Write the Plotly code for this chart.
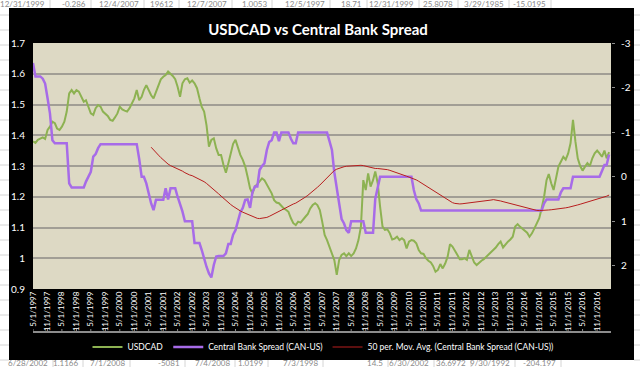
import plotly.graph_objects as go
import pandas as pd

# ---------------- data (monthly) ----------------
months = pd.date_range("1997-05-01", periods=240, freq="MS")

usdcad = [
    1.380, 1.375, 1.385, 1.390, 1.393, 1.388, 1.417, 1.428, 1.444, 1.439,
    1.422, 1.417, 1.428, 1.444, 1.477, 1.536, 1.547, 1.536, 1.547, 1.542,
    1.525, 1.509, 1.514, 1.488, 1.471, 1.466, 1.488, 1.498, 1.493, 1.477,
    1.469, 1.463, 1.450, 1.447, 1.458, 1.471, 1.493, 1.484, 1.480, 1.477,
    1.488, 1.504, 1.520, 1.547, 1.514, 1.525, 1.547, 1.563, 1.547, 1.530,
    1.520, 1.542, 1.563, 1.582, 1.590, 1.596, 1.607, 1.601, 1.593, 1.582,
    1.558, 1.525, 1.569, 1.582, 1.585, 1.571, 1.578, 1.569, 1.553, 1.520,
    1.493, 1.477, 1.433, 1.363, 1.385, 1.390, 1.357, 1.336, 1.336, 1.304,
    1.278, 1.309, 1.336, 1.372, 1.385, 1.357, 1.336, 1.320, 1.298, 1.265,
    1.227, 1.211, 1.233, 1.241, 1.249, 1.260, 1.254, 1.241, 1.227, 1.211,
    1.189, 1.181, 1.179, 1.170, 1.162, 1.157, 1.151, 1.130, 1.114, 1.108,
    1.119, 1.116, 1.124, 1.135, 1.144, 1.162, 1.173, 1.179, 1.173, 1.157,
    1.119, 1.076, 1.059, 1.038, 1.011, 0.994, 0.946, 0.994, 1.011, 1.016,
    1.007, 1.016, 1.007, 1.016, 1.032, 1.059, 1.103, 1.254, 1.222, 1.276,
    1.233, 1.254, 1.282, 1.244, 1.168, 1.103, 1.092, 1.094, 1.081, 1.061,
    1.064, 1.070, 1.059, 1.065, 1.059, 1.032, 1.054, 1.059, 1.057, 1.049,
    1.027, 1.016, 1.014, 1.000, 0.992, 0.986, 0.975, 0.956, 0.962, 0.981,
    0.967, 0.983, 1.005, 1.046, 1.038, 1.022, 1.011, 0.997, 0.997, 1.000,
    0.995, 1.027, 1.005, 0.986, 0.978, 0.986, 0.992, 0.997, 1.005, 1.014,
    1.018, 1.027, 1.035, 1.046, 1.054, 1.035, 1.046, 1.054, 1.061, 1.070,
    1.103, 1.111, 1.103, 1.097, 1.092, 1.083, 1.070, 1.081, 1.097, 1.116,
    1.130, 1.162, 1.200, 1.254, 1.274, 1.244, 1.222, 1.260, 1.298, 1.314,
    1.330, 1.321, 1.341, 1.374, 1.450, 1.379, 1.325, 1.300, 1.285, 1.298,
    1.309, 1.300, 1.325, 1.341, 1.350, 1.341, 1.330, 1.350, 1.325, 1.345,
]

spread = [
    -2.55, -2.25, -2.25, -2.25, -2.20, -2.09, -1.76, -1.42, -0.82, -0.75,
    -0.75, -0.75, -0.75, -0.75, -0.75, 0.15, 0.24, 0.24, 0.24, 0.24,
    0.24, 0.24, 0.11, 0.00, -0.11, -0.45, -0.51, -0.64, -0.73, -0.73,
    -0.73, -0.73, -0.73, -0.73, -0.73, -0.73, -0.73, -0.73, -0.73, -0.73,
    -0.73, -0.73, -0.73, -0.73, -0.40, 0.00, 0.00, 0.15, 0.37, 0.60,
    0.75, 0.52, 0.52, 0.52, 0.52, 0.26, 0.51, 0.26, 0.26, 0.26,
    0.45, 0.60, 0.78, 1.00, 1.00, 1.00, 1.00, 1.49, 1.49, 1.49,
    1.64, 1.87, 2.02, 2.17, 2.26, 1.98, 1.79, 1.78, 1.78, 1.78,
    1.72, 1.51, 1.51, 1.30, 1.20, 1.00, 0.80, 0.70, 0.52, 0.51,
    0.70, 0.35, 0.22, 0.22, -0.15, -0.24, -0.30, -0.60, -0.78, -0.82,
    -0.99, -0.99, -0.80, -0.99, -0.99, -0.99, -0.99, -0.85, -0.75, -0.75,
    -0.99, -0.99, -0.99, -0.99, -0.99, -0.99, -0.99, -0.99, -0.99, -0.99,
    -0.99, -0.99, -0.99, -0.80, -0.60, -0.10, 0.30, 0.60, 0.95, 1.05,
    1.20, 1.26, 1.00, 1.00, 1.00, 1.00, 1.00, 1.00, 1.26, 1.26,
    1.26, 1.26, 0.50, 0.26, 0.00, 0.00, 0.00, 0.00, 0.00, 0.00,
    0.00, 0.00, 0.00, 0.00, 0.00, 0.00, 0.00, 0.00, 0.30, 0.50,
    0.60, 0.76, 0.76, 0.76, 0.76, 0.76, 0.76, 0.76, 0.76, 0.76,
    0.76, 0.76, 0.76, 0.76, 0.76, 0.76, 0.76, 0.76, 0.76, 0.76,
    0.76, 0.76, 0.76, 0.76, 0.76, 0.76, 0.76, 0.76, 0.76, 0.76,
    0.76, 0.76, 0.76, 0.76, 0.76, 0.76, 0.76, 0.76, 0.76, 0.76,
    0.76, 0.76, 0.76, 0.76, 0.76, 0.76, 0.76, 0.76, 0.76, 0.76,
    0.76, 0.76, 0.60, 0.51, 0.51, 0.51, 0.51, 0.51, 0.51, 0.35,
    0.26, 0.26, 0.26, 0.26, 0.00, 0.00, 0.00, 0.00, 0.00, 0.00,
    0.00, 0.00, 0.00, 0.00, 0.00, 0.00, -0.13, -0.26, -0.26, -0.50,
]

ma_window = 50
spread_ma = pd.Series(spread).rolling(ma_window).mean()

tick_dates = pd.date_range("1997-05-01", "2016-11-01", freq="6MS")
tick_labels = [f"{d.month}/{d.day}/{d.year}" for d in tick_dates]

left_ticks = [0.9, 1.0, 1.1, 1.2, 1.3, 1.4, 1.5, 1.6, 1.7]
left_tick_text = ["0.9", "1", "1.1", "1.2", "1.3", "1.4", "1.5", "1.6", "1.7"]
right_ticks = [-3, -2, -1, 0, 1, 2]
right_tick_text = ["-3", "-2", "-1", "0", "1", "2"]

top_row = [("12/31/1999", 47), ("-0.286", 88), ("12/4/2007", 141), ("19612", 176),
           ("12/7/2007", 229), ("1.0053", 269), ("12/5/1997", 327), ("18.71", 364),
           ("12/31/1999", 416), ("25.8078", 455), ("3/29/1985", 506), ("-15.0195", 548)]
bottom_row = [("6/28/2002", 50), ("1.1166", 80), ("7/1/2008", 127), ("-5081", 182),
              ("7/4/2008", 232), ("1.0199", 265), ("7/3/1998", 320), ("14.5", 385),
              ("6/30/2002", 431), ("36.6972", 468), ("9/30/1992", 512), ("-204.197", 558)]

# ---------------- geometry helpers ----------------
W, H = 640, 367
L, R, T, B = 33, 29, 43, 78
PW, PH = W - L - R, H - T - B


def px(xp):
    return (xp - L) / PW


def py(yp):
    return (H - B - yp) / PH


FONT = "Lato, 'Liberation Sans', Arial, sans-serif"

fig = go.Figure()
fig.add_trace(go.Scatter(x=months, y=usdcad, name="USDCAD", mode="lines",
                         line=dict(color="#8DB252", width=2)))
fig.add_trace(go.Scatter(x=months, y=spread, name="Central Bank Spread (CAN-US)",
                         mode="lines", yaxis="y2",
                         line=dict(color="#A76BE8", width=2.5)))
fig.add_trace(go.Scatter(x=months, y=spread_ma,
                         name="50 per. Mov. Avg. (Central Bank Spread (CAN-US))",
                         mode="lines", yaxis="y2",
                         line=dict(color="#B81E1E", width=1)))

shapes = []
# white spreadsheet strips around the black chart area
for (x0, y0, x1, y1) in [(0, 0, W, 8), (0, 360, W, H), (0, 0, 9, H), (634, 0, W, H)]:
    shapes.append(dict(type="rect", xref="paper", yref="paper",
                       x0=px(x0), x1=px(x1), y0=py(y1), y1=py(y0),
                       fillcolor="white", line=dict(width=0), layer="below"))
# spreadsheet row lines in the side strips
for yy in range(15, H, 15):
    for (a, b) in [(0, 9), (634, W)]:
        shapes.append(dict(type="line", xref="paper", yref="paper",
                           x0=px(a), x1=px(b), y0=py(yy), y1=py(yy),
                           line=dict(color="#D4D4D4", width=1), layer="below"))
# cell borders in top / bottom rows
for (_, xe) in bottom_row:
    shapes.append(dict(type="line", xref="paper", yref="paper",
                       x0=px(xe + 3), x1=px(xe + 3), y0=py(360), y1=py(H),
                       line=dict(color="#D4D4D4", width=1), layer="below"))
for (_, xe) in top_row:
    shapes.append(dict(type="line", xref="paper", yref="paper",
                       x0=px(xe + 3), x1=px(xe + 3), y0=py(0), y1=py(8),
                       line=dict(color="#D4D4D4", width=1), layer="below"))
# secondary axis line below the date labels
shapes.append(dict(type="line", xref="paper", yref="paper",
                   x0=0, x1=1, y0=py(332), y1=py(332),
                   line=dict(color="#8C8C8C", width=2)))
for d in tick_dates:
    shapes.append(dict(type="line", xref="x", yref="paper",
                       x0=d, x1=d, y0=py(332), y1=py(329),
                       line=dict(color="#8C8C8C", width=1)))

annotations = []
for (txt, xe) in top_row:
    annotations.append(dict(text=txt, xref="paper", yref="paper", x=px(xe), y=py(4),
                            xanchor="right", yanchor="middle", showarrow=False,
                            font=dict(family=FONT, size=8, color="#8A8A8A")))
for (txt, xe) in bottom_row:
    annotations.append(dict(text=txt, xref="paper", yref="paper", x=px(xe), y=py(363),
                            xanchor="right", yanchor="middle", showarrow=False,
                            font=dict(family=FONT, size=8, color="#8A8A8A")))

fig.update_layout(
    width=W, height=H,
    margin=dict(l=L, r=R, t=T, b=B, autoexpand=False),
    paper_bgcolor="black",
    plot_bgcolor="#DDD9C4",
    title=dict(text="<b>USDCAD vs Central Bank Spread</b>", x=318 / W, xanchor="center",
               y=1 - 30 / H, yanchor="middle", yref="container",
               font=dict(family=FONT, size=15, color="white")),
    xaxis=dict(type="date", range=["1997-05-01", "2017-04-25"],
               tickvals=list(tick_dates), ticktext=tick_labels, tickangle=-90,
               tickfont=dict(family=FONT, size=8, color="white"),
               showgrid=False, zeroline=False, showline=False, ticks="",
               automargin=False),
    yaxis=dict(range=[0.9, 1.7], tickvals=left_ticks, ticktext=left_tick_text,
               tickfont=dict(family=FONT, size=10, color="white"),
               showgrid=True, gridcolor="#A19E95", gridwidth=1.5,
               zeroline=False, showline=False, ticks="", ticklabelstandoff=7,
               automargin=False),
    yaxis2=dict(range=[2.52, -3], overlaying="y", side="right",
                tickvals=right_ticks, ticktext=right_tick_text,
                tickfont=dict(family=FONT, size=10, color="white"),
                showgrid=False, zeroline=False, showline=False,
                ticks="outside", ticklen=3, tickcolor="#8C8C8C", ticklabelstandoff=4,
                automargin=False),
    legend=dict(orientation="h", x=px(323), xanchor="center", y=py(347), yanchor="middle",
                font=dict(family=FONT, size=8.5, color="white"), bgcolor="rgba(0,0,0,0)",
                itemwidth=30),
    shapes=shapes,
    annotations=annotations,
    showlegend=True,
)

fig.write_html("out.html",
               config={"displayModeBar": False},
               post_script="document.body.style.margin='0px';document.body.style.overflow='hidden';")
